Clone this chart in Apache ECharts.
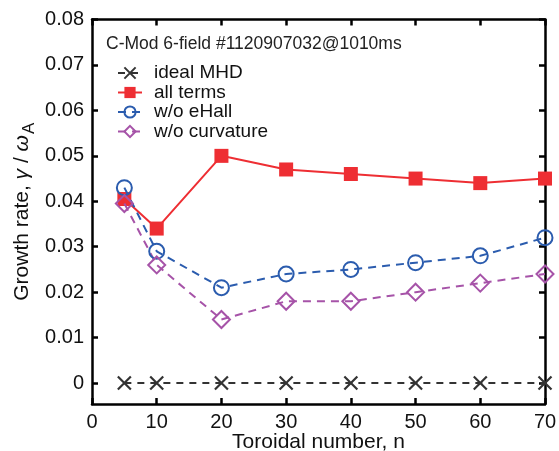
<!DOCTYPE html>
<html><head><meta charset="utf-8">
<script src="https://cdn.jsdelivr.net/npm/echarts@6/dist/echarts.min.js"></script>
<style>html,body{margin:0;padding:0;background:#fff}#c{width:559px;height:451px}</style>
</head><body><div id="c"></div>
<script>
const nVals = [5, 10, 20, 30, 40, 50, 60, 70];
const idealMHD = [0, 0, 0, 0, 0, 0, 0, 0];
const allTerms = [0.0405, 0.034, 0.050, 0.047, 0.046, 0.045, 0.044, 0.045];
const woEHall = [0.043, 0.029, 0.021, 0.024, 0.025, 0.0265, 0.028, 0.032];
const woCurv = [0.0395, 0.026, 0.014, 0.018, 0.018, 0.020, 0.022, 0.024];
const yTicks = [0, 0.01, 0.02, 0.03, 0.04, 0.05, 0.06, 0.07, 0.08];
const xTicks = [0, 10, 20, 30, 40, 50, 60, 70];
const titleText = 'C-Mod 6-field #1120907032@1010ms';

const pair = a => nVals.map((n, i) => [n, a[i]]);
const font = 'Liberation Sans, Arial, sans-serif';
const chart = echarts.init(document.getElementById('c'));
const axLine = {show: true, onZero: false, lineStyle: {color: '#000', width: 2.5}};
const tick = {show: true, inside: true, length: 6, lineStyle: {color: '#000', width: 2.5}};
chart.setOption({
  animation: false,
  textStyle: {fontFamily: font},
  grid: {left: 92, right: 14, top: 19.5, bottom: 47, containLabel: false, outerBoundsMode: 'none'},
  title: {text: titleText, left: 106, top: 35, padding: 0,
    textStyle: {fontSize: 17.5, fontWeight: 'normal', color: '#222', fontFamily: font}},
  legend: {
    orient: 'vertical', left: 112, top: 58.5, itemGap: 0.5, itemWidth: 24, itemHeight: 14,
    textStyle: {fontSize: 19, lineHeight: 19, color: '#111', fontFamily: font, padding: [0, 0, 0, 7]},
    data: ['ideal MHD', 'all terms', 'w/o eHall', 'w/o curvature']
  },
  xAxis: [{
    type: 'value', min: 0, max: 70, interval: 10,
    name: 'Toroidal number, n', nameLocation: 'middle', nameGap: 28, nameMoveOverlap: false,
    nameTextStyle: {fontSize: 21, color: '#111', fontFamily: font},
    axisLine: axLine, axisTick: tick,
    axisLabel: {fontSize: 20, color: '#111', margin: 8, fontFamily: font},
    splitLine: {show: false}
  }, {
    type: 'value', position: 'top', min: 0, max: 70, interval: 10,
    axisLine: axLine, axisTick: tick, axisLabel: {show: false}, splitLine: {show: false}
  }],
  yAxis: [{
    type: 'value', min: -0.0046, max: 0.08,
    name: '{a|Growth rate, }{i|γ}{a| / }{i|ω}{s|A}', nameLocation: 'middle', nameGap: 54, nameMoveOverlap: false,
    nameTextStyle: {
      color: '#111', fontFamily: font,
      rich: {
        a: {fontSize: 21, fontFamily: font, color: '#111'},
        i: {fontSize: 21, fontFamily: font, fontStyle: 'italic', color: '#111'},
        s: {fontSize: 17, fontFamily: font, color: '#111', padding: [14, 0, 0, 1]}
      }
    },
    axisLine: axLine,
    axisTick: Object.assign({}, tick, {customValues: yTicks}),
    axisLabel: {fontSize: 20, color: '#111', margin: 8, fontFamily: font, customValues: yTicks,
      formatter: v => (Math.abs(v) < 1e-9 ? '0' : v.toFixed(2))},
    splitLine: {show: false}
  }, {
    type: 'value', position: 'right', min: -0.0046, max: 0.08,
    axisLine: axLine,
    axisTick: Object.assign({}, tick, {customValues: yTicks}),
    axisLabel: {show: false}, splitLine: {show: false}
  }],
  series: [
    {
      name: 'ideal MHD', type: 'line', data: pair(idealMHD),
      symbol: 'path://M0,0L10,10M10,0L0,10', symbolSize: 13,
      itemStyle: {color: '#333', borderColor: '#333', borderWidth: 2.2},
      lineStyle: {color: '#333', width: 2, type: [7, 6]}, z: 2
    },
    {
      name: 'all terms', type: 'line', data: pair(allTerms),
      symbol: 'rect', symbolSize: 14,
      itemStyle: {color: '#ee2e33'},
      lineStyle: {color: '#ee2e33', width: 2}, z: 3
    },
    {
      name: 'w/o eHall', type: 'line', data: pair(woEHall),
      symbol: 'circle', symbolSize: 15,
      itemStyle: {color: 'rgba(255,255,255,0)', borderColor: '#2b5cae', borderWidth: 2},
      lineStyle: {color: '#2b5cae', width: 2, type: [8, 6]}, z: 4
    },
    {
      name: 'w/o curvature', type: 'line', data: pair(woCurv),
      symbol: 'diamond', symbolSize: 17,
      itemStyle: {color: 'rgba(255,255,255,0)', borderColor: '#a653a8', borderWidth: 2},
      lineStyle: {color: '#a653a8', width: 2, type: [8, 6]}, z: 4
    }
  ]
});
</script></body></html>
